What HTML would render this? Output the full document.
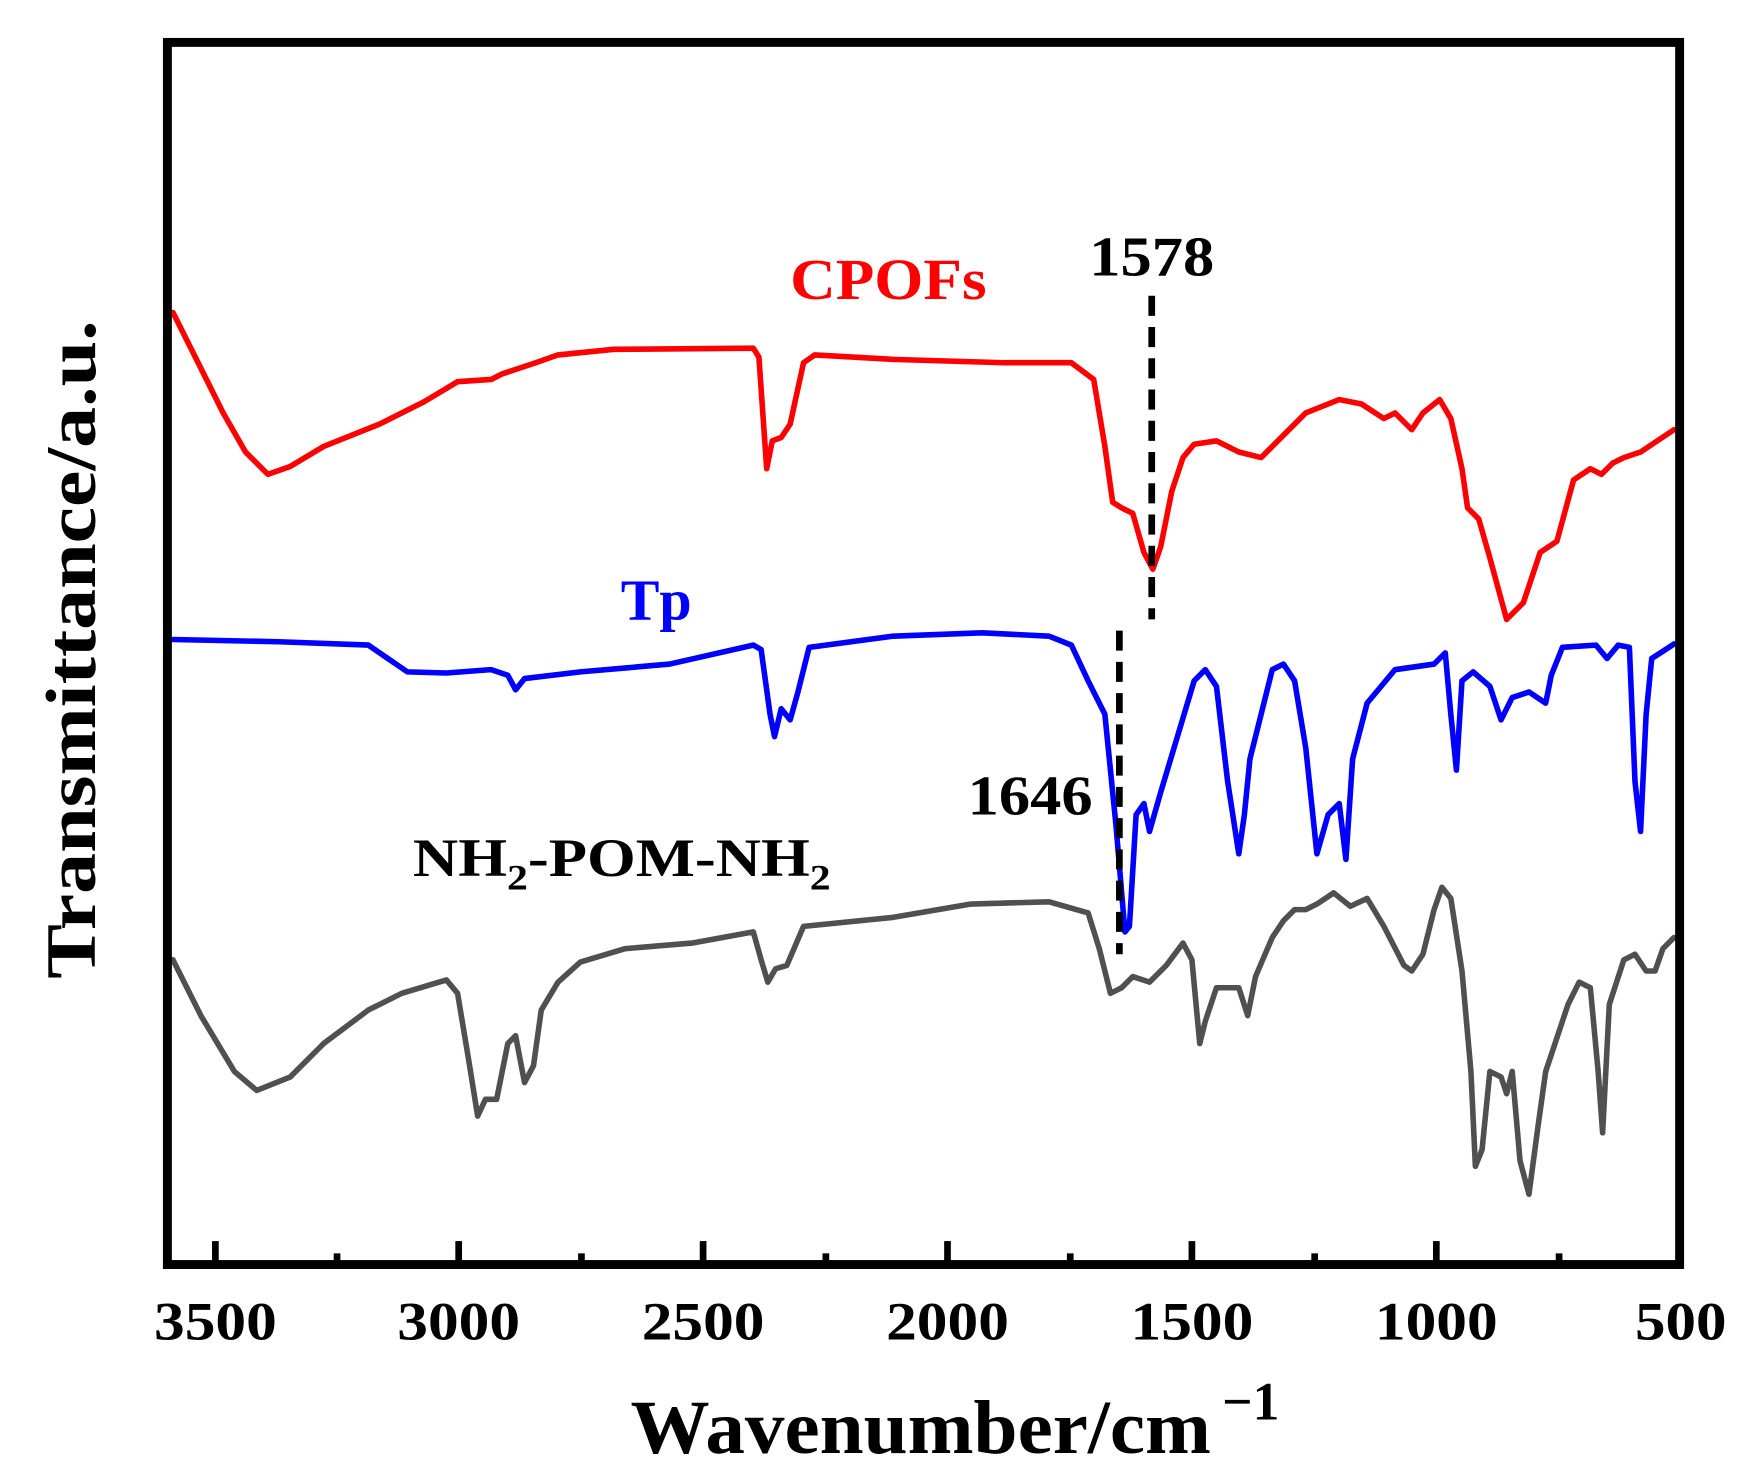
<!DOCTYPE html>
<html><head><meta charset="utf-8"><style>html,body{margin:0;padding:0;background:#fff}svg{display:block}</style></head>
<body>
<svg width="1741" height="1471" viewBox="0 0 1560 1318" preserveAspectRatio="none" xmlns="http://www.w3.org/2000/svg" font-family="Liberation Serif, serif" font-weight="bold">
<rect width="1560" height="1318" fill="#fff"/>
<g fill="none" stroke-linejoin="round" stroke-linecap="round" stroke-width="5">
<polyline stroke="#ff0000" points="155,280 175,320 200,370 220,405 240,425 260,418 290,400 340,380 380,360 410,342 440,340 450,335 480,325 500,318 550,313 675,312 680,320 687,420 692,395 700,392 708,380 720,325 730,318 800,322 900,325 960,325 980,340 990,400 997,450 1005,455 1015,460 1025,495 1033,510 1040,490 1050,440 1060,410 1070,398 1090,395 1110,405 1130,410 1150,390 1170,370 1200,358 1220,362 1240,375 1250,370 1265,385 1275,370 1290,358 1300,375 1310,420 1315,455 1325,465 1335,500 1350,555 1365,540 1380,495 1395,485 1410,430 1425,420 1435,425 1445,415 1455,410 1470,405 1500,385"/>
<polyline stroke="#0000ff" points="155,573 250,575 330,578 365,602 400,603 440,600 455,605 462,618 470,608 520,602 600,595 675,578 682,582 690,640 694,660 700,635 708,645 715,620 725,580 800,570 880,567 940,570 960,578 975,610 990,640 1000,740 1008,835 1012,830 1018,730 1025,720 1030,745 1040,710 1055,660 1070,610 1080,600 1090,615 1100,700 1110,765 1115,730 1120,680 1130,640 1140,600 1150,595 1160,610 1170,670 1180,765 1190,730 1200,720 1206,770 1212,680 1225,630 1250,600 1285,595 1295,585 1300,640 1305,690 1310,610 1320,602 1335,615 1345,645 1355,625 1370,620 1385,630 1390,605 1400,580 1430,578 1440,590 1450,578 1460,580 1465,700 1470,745 1475,640 1480,590 1500,577"/>
<polyline stroke="#505050" points="155,860 180,910 210,960 230,977 260,965 290,935 330,905 360,890 400,878 410,890 420,950 428,1000 435,985 445,985 455,935 462,928 470,970 478,955 485,905 500,880 520,862 560,850 620,845 675,835 682,860 688,880 695,868 705,865 720,830 800,822 870,810 940,808 975,818 985,850 995,890 1005,885 1015,875 1030,880 1045,865 1060,845 1068,860 1075,935 1080,915 1090,885 1100,885 1110,885 1118,910 1125,875 1140,840 1150,825 1160,815 1170,815 1180,810 1195,800 1210,812 1225,805 1240,830 1258,865 1265,870 1275,855 1285,815 1292,795 1300,805 1310,870 1318,960 1322,1045 1328,1030 1335,960 1345,965 1350,980 1355,960 1362,1040 1370,1070 1378,1010 1385,960 1395,930 1405,900 1415,880 1425,885 1432,960 1436,1015 1442,900 1455,860 1465,855 1475,870 1483,870 1490,850 1500,840"/>
</g>
<g stroke="#000" stroke-width="6" stroke-dasharray="18,10">
<line x1="1032" y1="265" x2="1032" y2="555"/>
<line x1="1003" y1="565" x2="1003" y2="855"/>
</g>
<rect x="150" y="38" width="1355" height="1095" fill="none" stroke="#000" stroke-width="8"/>
<g stroke="#000" stroke-width="6">
<line x1="193" y1="1131" x2="193" y2="1112"/><line x1="411" y1="1131" x2="411" y2="1112"/><line x1="630" y1="1131" x2="630" y2="1112"/><line x1="849" y1="1131" x2="849" y2="1112"/><line x1="1068" y1="1131" x2="1068" y2="1112"/><line x1="1287" y1="1131" x2="1287" y2="1112"/>
<line x1="302" y1="1131" x2="302" y2="1123"/><line x1="521" y1="1131" x2="521" y2="1123"/><line x1="740" y1="1131" x2="740" y2="1123"/><line x1="959" y1="1131" x2="959" y2="1123"/><line x1="1178" y1="1131" x2="1178" y2="1123"/><line x1="1397" y1="1131" x2="1397" y2="1123"/>
</g>
<g font-size="48" text-anchor="middle" fill="#000">
<text x="193" y="1200" textLength="110" lengthAdjust="spacingAndGlyphs">3500</text><text x="411" y="1200" textLength="110" lengthAdjust="spacingAndGlyphs">3000</text><text x="630" y="1200" textLength="110" lengthAdjust="spacingAndGlyphs">2500</text><text x="849" y="1200" textLength="110" lengthAdjust="spacingAndGlyphs">2000</text><text x="1068" y="1200" textLength="110" lengthAdjust="spacingAndGlyphs">1500</text><text x="1287" y="1200" textLength="110" lengthAdjust="spacingAndGlyphs">1000</text><text x="1506" y="1200" textLength="82" lengthAdjust="spacingAndGlyphs">500</text>
</g>
<text x="565" y="1302" font-size="68" textLength="520" lengthAdjust="spacingAndGlyphs">Wavenumber/cm</text>
<text x="1095" y="1272" font-size="48">−1</text>
<text transform="translate(85,582) rotate(-90)" font-size="64" text-anchor="middle" textLength="590" lengthAdjust="spacingAndGlyphs">Transmittance/a.u.</text>
<text x="1032" y="247" font-size="50" text-anchor="middle" textLength="112" lengthAdjust="spacingAndGlyphs">1578</text>
<text x="796" y="268" font-size="52" fill="#ff0000" text-anchor="middle" textLength="176" lengthAdjust="spacingAndGlyphs">CPOFs</text>
<text x="588" y="555" font-size="52" fill="#0000ff" text-anchor="middle">Tp</text>
<text x="923" y="730" font-size="50" text-anchor="middle" textLength="112" lengthAdjust="spacingAndGlyphs">1646</text>
<text transform="translate(370,785) scale(1.17,1)" x="0" y="0" font-size="48">NH<tspan dy="12" font-size="32">2</tspan><tspan dy="-12">-POM-NH</tspan><tspan dy="12" font-size="32">2</tspan></text>
</svg>
</body></html>
